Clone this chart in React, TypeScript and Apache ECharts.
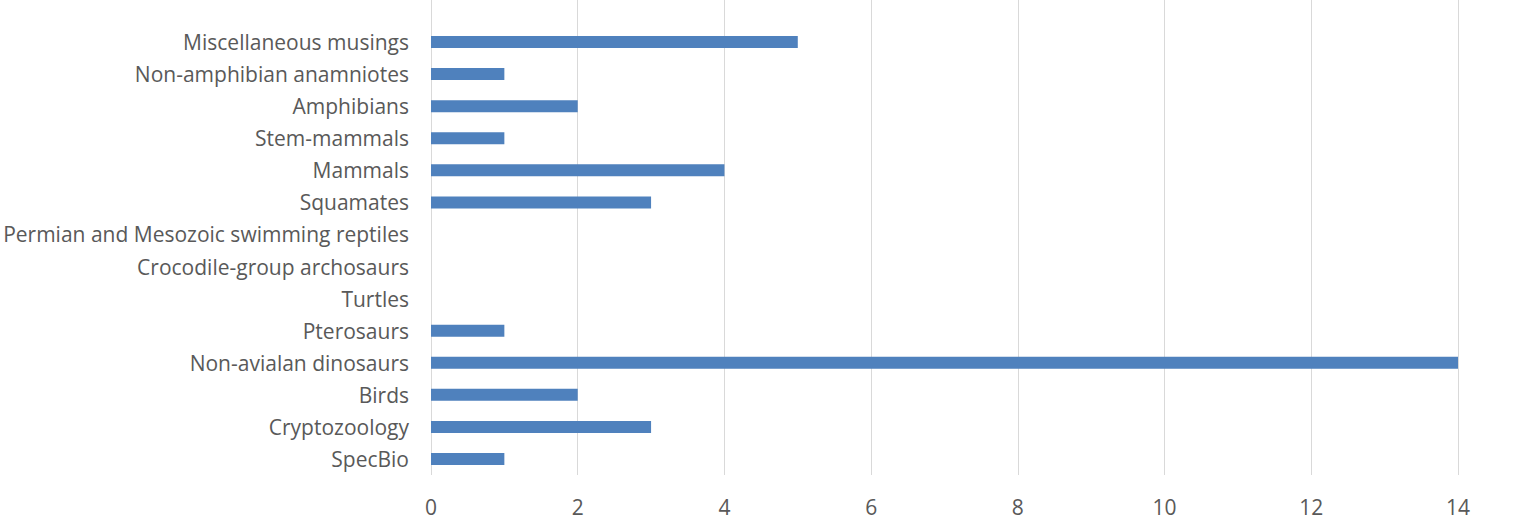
import React, { useEffect, useRef } from "react";
import * as echarts from "echarts";

const categories = [
  "SpecBio",
  "Cryptozoology",
  "Birds",
  "Non-avialan dinosaurs",
  "Pterosaurs",
  "Turtles",
  "Crocodile-group archosaurs",
  "Permian and Mesozoic swimming reptiles",
  "Squamates",
  "Mammals",
  "Stem-mammals",
  "Amphibians",
  "Non-amphibian anamniotes",
  "Miscellaneous musings",
];
const counts = [1, 3, 2, 14, 1, 0, 0, 0, 3, 4, 1, 2, 1, 5];
const xMin = 0;
const xMax = 14;
const xStep = 2;

export default function App() {
  const ref = useRef<HTMLDivElement>(null);
  useEffect(() => {
    document.body.style.margin = "0";
    if (!ref.current) return;
    const chart = echarts.init(ref.current, null, { renderer: "svg" });
    const font = "'Open Sans', sans-serif";
    chart.setOption({
      animation: false,
      backgroundColor: "#ffffff",
      grid: [
        { left: 431, right: 68, top: 0, bottom: 53 },
        { left: 431, right: 68, top: 26, bottom: 53 },
      ],
      xAxis: [
        {
          gridIndex: 0,
          type: "value",
          min: xMin,
          max: xMax,
          interval: xStep,
          axisLine: { show: false },
          axisTick: { show: false },
          axisLabel: { show: false },
          splitLine: { show: true, lineStyle: { color: "#d9d9d9", width: 1 } },
        },
        {
          gridIndex: 1,
          type: "value",
          min: xMin,
          max: xMax,
          interval: xStep,
          axisLine: { show: false },
          axisTick: { show: false },
          splitLine: { show: false },
          axisLabel: {
            color: "#595959",
            fontSize: 21,
            fontFamily: font,
            margin: 21,
          },
        },
      ],
      yAxis: [
        {
          gridIndex: 0,
          type: "category",
          data: categories,
          show: false,
        },
        {
          gridIndex: 1,
          type: "category",
          data: categories,
          axisLine: { show: false },
          axisTick: { show: false },
          splitLine: { show: false },
          axisLabel: {
            color: "#595959",
            fontSize: 21,
            fontFamily: font,
            margin: 22,
          },
        },
      ],
      series: [
        {
          type: "bar",
          xAxisIndex: 1,
          yAxisIndex: 1,
          data: counts,
          barWidth: 12,
          itemStyle: { color: "#4f81bd" },
        },
      ],
    });
    return () => chart.dispose();
  }, []);
  return <div ref={ref} style={{ width: 1526, height: 528 }} />;
}
